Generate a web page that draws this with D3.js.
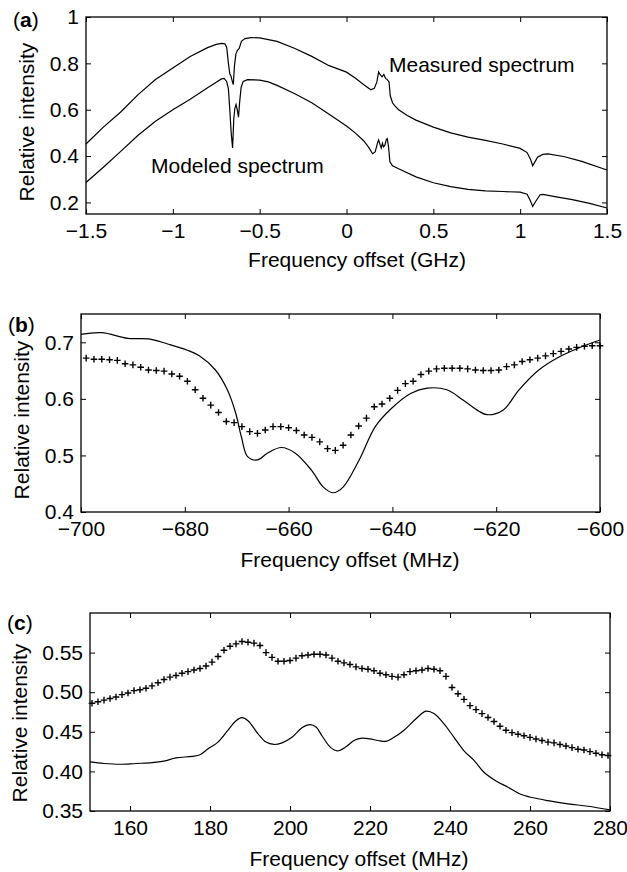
<!DOCTYPE html>
<html>
<head>
<meta charset="utf-8">
<script src="https://cdn.jsdelivr.net/npm/d3@7/dist/d3.min.js"></script>
<style>
  body { margin: 0; background: #fff; }
  svg text { font-family: "Liberation Sans", Arial, Helvetica, sans-serif; fill: #000; }
</style>
</head>
<body>
<svg id="fig" width="627" height="872"></svg>
<script>
// ---- panel (a): full spectrum, GHz ----
var aMeasX = [-1.5,-1.4,-1.3,-1.2,-1.1,-1.0,-0.9,-0.8,-0.75,-0.72,-0.70,-0.69,-0.68,-0.672,-0.665,-0.657,-0.652,-0.645,-0.637,-0.628,-0.618,-0.605,-0.585,-0.55,-0.5,-0.4,-0.3,-0.2,-0.1,0.0,0.05,0.1,0.14,0.16,0.175,0.185,0.195,0.205,0.215,0.225,0.235,0.245,0.252,0.265,0.28,0.3,0.35,0.4,0.5,0.6,0.7,0.8,0.9,1.0,1.04,1.06,1.072,1.085,1.1,1.13,1.16,1.25,1.35,1.5];
var aMeasY = [0.452,0.525,0.59,0.665,0.73,0.78,0.83,0.868,0.882,0.886,0.884,0.87,0.80,0.755,0.745,0.72,0.709,0.79,0.84,0.856,0.864,0.895,0.907,0.911,0.91,0.895,0.865,0.83,0.79,0.762,0.737,0.708,0.686,0.692,0.72,0.763,0.75,0.742,0.752,0.735,0.73,0.72,0.66,0.63,0.615,0.6,0.575,0.555,0.525,0.5,0.482,0.468,0.452,0.433,0.415,0.385,0.358,0.375,0.395,0.407,0.409,0.398,0.378,0.34];

var aModX = [-1.5,-1.4,-1.3,-1.2,-1.1,-1.0,-0.9,-0.8,-0.75,-0.72,-0.705,-0.69,-0.68,-0.672,-0.664,-0.656,-0.649,-0.643,-0.636,-0.629,-0.622,-0.615,-0.607,-0.595,-0.57,-0.5,-0.45,-0.4,-0.3,-0.2,-0.1,0.0,0.05,0.1,0.13,0.15,0.165,0.178,0.185,0.195,0.2,0.207,0.213,0.22,0.23,0.235,0.242,0.25,0.265,0.3,0.4,0.5,0.6,0.7,0.8,0.9,1.0,1.04,1.06,1.072,1.09,1.115,1.13,1.2,1.3,1.4,1.5];
var aModY = [0.286,0.352,0.42,0.49,0.55,0.6,0.645,0.695,0.718,0.733,0.735,0.722,0.69,0.6,0.5,0.435,0.56,0.605,0.622,0.6,0.568,0.635,0.695,0.722,0.73,0.728,0.72,0.705,0.67,0.63,0.58,0.53,0.5,0.465,0.435,0.41,0.418,0.455,0.47,0.445,0.435,0.455,0.44,0.445,0.472,0.475,0.44,0.375,0.358,0.345,0.31,0.285,0.268,0.256,0.25,0.247,0.244,0.235,0.205,0.183,0.205,0.233,0.235,0.225,0.212,0.196,0.176];

var aXTicks = [-1.5,-1,-0.5,0,0.5,1,1.5];
var aYTicks = [0.2,0.4,0.6,0.8,1];

// ---- panel (b): around -650 MHz ----
var bLineX = [-700,-696,-691,-687,-683.3,-679.5,-677.2,-674.1,-671.8,-670.2,-669.1,-667.9,-666,-664.1,-661.4,-658.7,-655.6,-653.3,-651.4,-649.5,-646.4,-643.3,-640.2,-636.4,-633.3,-629.5,-626.4,-623.3,-621.8,-618.7,-615.6,-611.8,-607.9,-604.1,-600];
var bLineY = [0.714,0.717,0.707,0.706,0.697,0.686,0.676,0.651,0.616,0.575,0.533,0.498,0.492,0.504,0.514,0.504,0.474,0.444,0.434,0.444,0.492,0.551,0.583,0.61,0.619,0.616,0.598,0.578,0.572,0.58,0.616,0.651,0.674,0.69,0.704];

var bDotX = [-699,-697.5,-696,-694.5,-693,-691.5,-690,-688.5,-687,-685.5,-684,-682.5,-681,-679.5,-678,-676.5,-675,-673.5,-672,-670.5,-669,-667.5,-666,-664.5,-663,-661.5,-660,-658.5,-657,-655.5,-654,-652.5,-651,-649.5,-648,-646.5,-645,-643.5,-642,-640.5,-639,-637.5,-636,-634.5,-633,-631.5,-630,-628.5,-627,-625.5,-624,-622.5,-621,-619.5,-618,-616.5,-615,-613.5,-612,-610.5,-609,-607.5,-606,-604.5,-603,-601.5,-600];
var bDotY = [0.672,0.670,0.670,0.669,0.668,0.662,0.660,0.656,0.651,0.650,0.649,0.644,0.640,0.631,0.616,0.601,0.589,0.576,0.560,0.558,0.551,0.542,0.539,0.545,0.551,0.551,0.549,0.544,0.536,0.532,0.524,0.512,0.509,0.518,0.536,0.552,0.566,0.586,0.591,0.601,0.615,0.627,0.631,0.643,0.649,0.653,0.654,0.654,0.654,0.653,0.651,0.650,0.650,0.651,0.657,0.660,0.666,0.669,0.672,0.676,0.680,0.684,0.688,0.691,0.693,0.694,0.694];

var bXTicks = [-700,-680,-660,-640,-620,-600];
var bYTicks = [0.4,0.5,0.6,0.7];

// ---- panel (c): around +210 MHz ----
var cLineX = [150,153.5,157.5,161.5,165.5,168.5,171.5,175.5,177.5,179.5,182,184.5,186.5,188,189.5,192,194,196,198,200.5,203,205,206.5,208,210,211.8,214,216,218,220,222,224,226,228.5,231.5,234,236,238.5,241,243.5,246,248.5,251.5,254.5,257.5,260.5,264.5,269.5,274.5,280];
var cLineY = [0.412,0.410,0.409,0.410,0.411,0.413,0.417,0.419,0.421,0.4285,0.437,0.452,0.464,0.468,0.464,0.4475,0.437,0.434,0.436,0.443,0.455,0.459,0.456,0.445,0.431,0.426,0.431,0.439,0.442,0.441,0.439,0.438,0.443,0.452,0.4665,0.476,0.473,0.460,0.443,0.426,0.414,0.399,0.388,0.380,0.3715,0.367,0.363,0.359,0.356,0.3515];

var cDotX = [150.5,152,153.5,155,156.5,158,159.5,161,162.5,164,165.5,167,168.5,170,171.5,173,174.5,176,177.5,179,180.5,182,183.5,185,186.5,188,189.5,191,192.5,194,195.5,197,198.5,200,201.5,203,204.5,206,207.5,209,210.5,212,213.5,215,216.5,218,219.5,221,222.5,224,225.5,227,228.5,230,231.5,233,234.5,236,237.5,239,240.5,242,243.5,245,246.5,248,249.5,251,252.5,254,255.5,257,258.5,260,261.5,263,264.5,266,267.5,269,270.5,272,273.5,275,276.5,278,279.5];
var cDotY = [0.486,0.488,0.490,0.492,0.494,0.497,0.499,0.502,0.503,0.505,0.508,0.512,0.516,0.519,0.521,0.524,0.526,0.528,0.530,0.533,0.538,0.545,0.553,0.558,0.561,0.564,0.563,0.562,0.559,0.550,0.544,0.539,0.539,0.540,0.543,0.546,0.547,0.548,0.548,0.547,0.543,0.539,0.537,0.535,0.532,0.530,0.529,0.527,0.524,0.522,0.520,0.519,0.522,0.526,0.527,0.528,0.530,0.529,0.527,0.520,0.506,0.498,0.491,0.483,0.478,0.473,0.468,0.463,0.457,0.452,0.449,0.447,0.445,0.443,0.441,0.439,0.437,0.436,0.434,0.432,0.430,0.428,0.427,0.425,0.423,0.421,0.420];

var cXTicks = [160,180,200,220,240,260,280];
var cYTicks = [0.35,0.40,0.45,0.50,0.55];

// ---- layout ----
var svg = d3.select("#fig");
var fontSize = 21;

var panels = [
  { letter: "a", left: 86, right: 607, top: 17, bottom: 214,
    xDomain: [-1.5, 1.5], yDomain: [0.15, 1],
    xTicks: aXTicks, yTicks: aYTicks, xFmt: d3.format("~g"), yFmt: d3.format("~g"),
    xTitle: "Frequency offset (GHz)", titleX: 357, titleY: 267,
    yLabelX: 34, yLabelY: 122, letterX: 13, letterY: 27,
    lines: [[aMeasX, aMeasY], [aModX, aModY]], curve: d3.curveLinear, dots: null },
  { letter: "b", left: 81, right: 600, top: 314, bottom: 512,
    xDomain: [-700, -600], yDomain: [0.4, 0.75],
    xTicks: bXTicks, yTicks: bYTicks, xFmt: d3.format("d"), yFmt: d3.format(".1f"),
    xTitle: "Frequency offset (MHz)", titleX: 350, titleY: 567,
    yLabelX: 28.5, yLabelY: 420, letterX: 8, letterY: 332,
    lines: [[bLineX, bLineY]], curve: d3.curveCatmullRom.alpha(0.5), dots: [bDotX, bDotY] },
  { letter: "c", left: 90, right: 610, top: 613, bottom: 811,
    xDomain: [150, 280], yDomain: [0.35, 0.6],
    xTicks: cXTicks, yTicks: cYTicks, xFmt: d3.format("d"), yFmt: d3.format(".2f"),
    xTitle: "Frequency offset (MHz)", titleX: 359, titleY: 866,
    yLabelX: 27, yLabelY: 723, letterX: 7, letterY: 630,
    lines: [[cLineX, cLineY]], curve: d3.curveCatmullRom.alpha(0.5), dots: [cDotX, cDotY] }
];

panels.forEach(function(p) {
  var x = d3.scaleLinear().domain(p.xDomain).range([p.left, p.right]);
  var y = d3.scaleLinear().domain(p.yDomain).range([p.bottom, p.top]);
  var g = svg.append("g");

  // axes: ticks pointing inward on all four sides
  var bottomAxis = g.append("g")
    .attr("transform", `translate(0,${p.bottom})`)
    .call(d3.axisBottom(x).tickValues(p.xTicks).tickSizeInner(-5).tickSizeOuter(0)
      .tickPadding(9).tickFormat(p.xFmt));
  var leftAxis = g.append("g")
    .attr("transform", `translate(${p.left},0)`)
    .call(d3.axisLeft(y).tickValues(p.yTicks).tickSizeInner(-5).tickSizeOuter(0)
      .tickPadding(7).tickFormat(p.yFmt));
  g.append("g")
    .attr("transform", `translate(0,${p.top})`)
    .call(d3.axisTop(x).tickValues(p.xTicks).tickSizeInner(-5).tickSizeOuter(0).tickFormat(""));
  g.append("g")
    .attr("transform", `translate(${p.right},0)`)
    .call(d3.axisRight(y).tickValues(p.yTicks).tickSizeInner(-5).tickSizeOuter(0).tickFormat(""));

  g.selectAll(".domain").remove();
  g.selectAll(".tick line").attr("stroke", "#000").attr("stroke-width", 1);
  g.selectAll(".tick text").style("font-size", fontSize + "px").attr("fill", "#000");

  // frame
  g.append("rect")
    .attr("x", p.left).attr("y", p.top)
    .attr("width", p.right - p.left).attr("height", p.bottom - p.top)
    .attr("fill", "none").attr("stroke", "#000").attr("stroke-width", 1.3);

  // lines
  var line = d3.line()
    .x(function(d) { return x(d[0]); })
    .y(function(d) { return y(d[1]); })
    .curve(p.curve);
  p.lines.forEach(function(s) {
    var pts = s[0].map(function(v, i) { return [v, s[1][i]]; });
    g.append("path")
      .datum(pts)
      .attr("d", line)
      .attr("fill", "none")
      .attr("stroke", "#000")
      .attr("stroke-width", 1.2);
  });

  // measured points as crosses
  if (p.dots) {
    var pts = p.dots[0].map(function(v, i) { return [v, p.dots[1][i]]; });
    var r = 3.3;
    g.selectAll(".cross")
      .data(pts)
      .enter()
      .append("path")
      .attr("class", "cross")
      .attr("d", function(d) {
        var cx = x(d[0]), cy = y(d[1]);
        return `M${cx - r},${cy}H${cx + r}M${cx},${cy - r}V${cy + r}`;
      })
      .attr("stroke", "#000")
      .attr("stroke-width", 1.4)
      .attr("fill", "none");
  }

  // axis titles
  g.append("text")
    .attr("x", p.titleX).attr("y", p.titleY)
    .attr("text-anchor", "middle")
    .style("font-size", fontSize + "px")
    .text(p.xTitle);
  g.append("text")
    .attr("transform", `translate(${p.yLabelX},${p.yLabelY}) rotate(-90)`)
    .attr("text-anchor", "middle")
    .style("font-size", fontSize + "px")
    .text("Relative intensity");

  // panel letter
  var lt = g.append("text")
    .attr("x", p.letterX).attr("y", p.letterY)
    .style("font-size", fontSize + "px");
  lt.append("tspan").text("(");
  lt.append("tspan").attr("font-weight", "bold").text(p.letter);
  lt.append("tspan").text(")");

  // curve annotations in panel (a)
  if (p.letter === "a") {
    g.append("text").attr("x", 389).attr("y", 72)
      .style("font-size", fontSize + "px").text("Measured spectrum");
    g.append("text").attr("x", 151).attr("y", 173)
      .style("font-size", fontSize + "px").text("Modeled spectrum");
  }
});
</script>
</body>
</html>
